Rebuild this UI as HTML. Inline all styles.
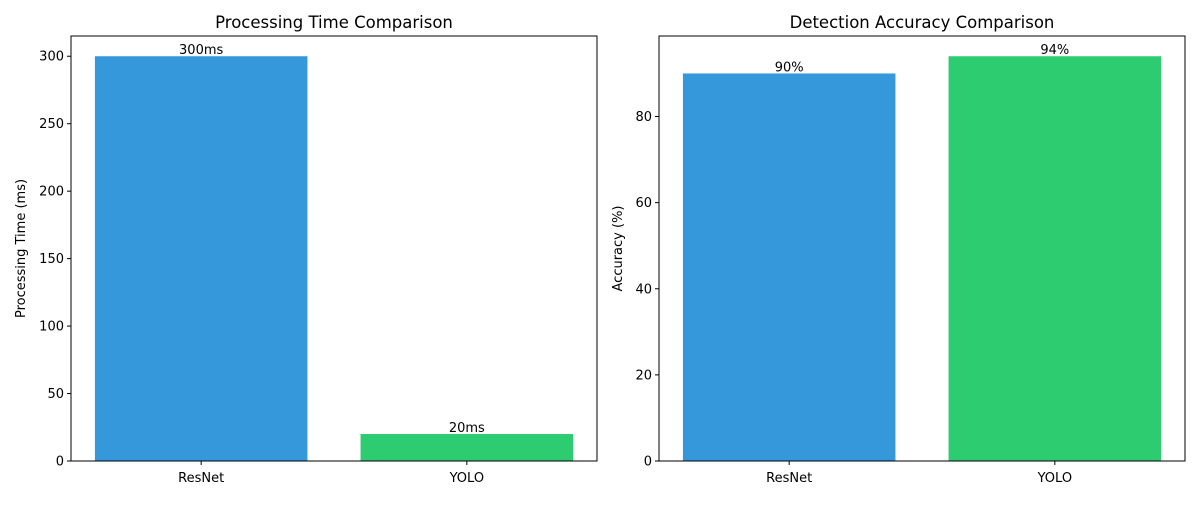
<!DOCTYPE html>
<html><head><meta charset="utf-8"><style>
body{margin:0;background:#fff;font-family:"Liberation Sans","DejaVu Sans",sans-serif;}
text{font-family:"DejaVu Sans","Liberation Sans",sans-serif;}
</style></head><body>
<svg id="c" width="1200" height="500"></svg>
<script>
const categories = ["ResNet","YOLO"];
const timeValues = [300,20];
const timeLabels = ["300ms","20ms"];
const accValues = [90,94];
const accLabels = ["90%","94%"];
const timeTicks = [0,50,100,150,200,250,300];
const accTicks = [0,20,40,60,80];
const colors = ["#3498db","#2ecc71"];
const NS="http://www.w3.org/2000/svg";
const svg=document.getElementById('c');
function mk(tag,attrs,txt){const e=document.createElementNS(NS,tag);for(const k in attrs)e.setAttribute(k,attrs[k]);if(txt!==undefined)e.textContent=txt;svg.appendChild(e);return e;}
function panel(x0,x1,y0,y1,vals,labels,ticks,title,ylabel,prefix,ylx){
  const ymax=Math.max(...vals)*1.05;
  const ys=v=>y1-(v/ymax)*(y1-y0);
  const xs=v=>x0+(v+0.49)/1.98*(x1-x0);
  const bw=0.8/1.98*(x1-x0);
  vals.forEach((v,i)=>{
    const r=mk('rect',{x:xs(i)-bw/2,y:ys(v),width:bw,height:y1-ys(v),fill:colors[i]});
    
    
    const t=mk('text',{x:xs(i),y:ys(v)-2,'text-anchor':'middle','font-size':13,fill:'#000'},labels[i]);
    
    
    mk('line',{x1:xs(i),x2:xs(i),y1:y1,y2:y1+4,stroke:'#000'});
    const c=mk('text',{x:xs(i),y:y1+21,'text-anchor':'middle','font-size':13},categories[i]);
    
    
  });
  ticks.forEach(t=>{
    mk('line',{x1:x0-4,x2:x0,y1:ys(t),y2:ys(t),stroke:'#000'});
    const l=mk('text',{x:x0-7,y:ys(t)+4.5,'text-anchor':'end','font-size':13},t);
    
    
  });
  const f=mk('rect',{x:x0,y:y0,width:x1-x0,height:y1-y0,fill:'none',stroke:'#000','stroke-width':1});
  
  
  const ti=mk('text',{x:(x0+x1)/2,y:y0-8,'text-anchor':'middle','font-size':16.5},title);
  
  
  const yl=mk('text',{x:0,y:0,'text-anchor':'middle','font-size':13,transform:`translate(${ylx},${(y0+y1)/2}) rotate(-90)`},ylabel);
  
  
}
panel(71,597,36,461,timeValues,timeLabels,timeTicks,"Processing Time Comparison","Processing Time (ms)","time",25);
panel(659,1185,36,461,accValues,accLabels,accTicks,"Detection Accuracy Comparison","Accuracy (%)","accuracy",622);
</script>
</body></html>
